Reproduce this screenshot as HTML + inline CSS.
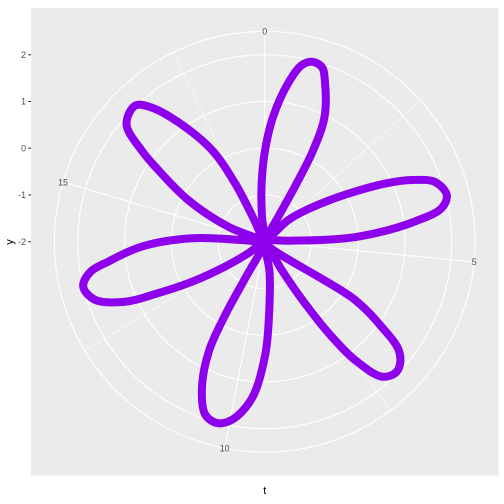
<!DOCTYPE html>
<html><head><meta charset="utf-8"><style>
html,body{margin:0;padding:0;background:#fff;}
svg{display:block;font-family:"Liberation Sans",sans-serif;}
</style></head><body>
<svg id="chart" width="504" height="504" viewBox="0 0 504 504">
<rect x="31" y="8" width="467.5" height="467.5" fill="#EBEBEB"/>
<g id="grid"></g>
<g id="series"></g>
<g id="axes"></g>
<text x="264.75" y="494" text-anchor="middle" font-size="11" fill="#000">t</text>
<text x="13" y="242" text-anchor="middle" font-size="11" fill="#000" transform="rotate(-90 13 242)">y</text>
</svg>
<script>
const thetaMax = 6 * Math.PI;
const yMin = -2, yMax = 2;
const thetaMajor = [0, 5, 10, 15];
const thetaMinor = [2.5, 7.5, 12.5, 17.5];
const thetaLabels = ["0", "5", "10", "15"];
const rBreaks = [-2, -1, 0, 1, 2];
const rLabels = ["-2", "-1", "0", "1", "2"];
// path data: t (theta) and y values
const tVals = [
 -0.16,0.01,0.20,0.44,0.62,0.77,0.95,1.09,1.34,1.46,1.50,1.49, 2.0,
 2.48,2.93,3.19,3.38,3.52,3.70,3.96,4.15,4.31,4.43,4.56,4.62,4.58, 5.5,
 6.43,6.60,6.75,6.93,7.08,7.28,7.47,7.58,7.69,7.80, 8.4,
 8.95,9.20,9.41,9.67,9.97,10.20,10.42,10.64,10.84,10.91,10.90, 11.6,
 12.30,12.46,12.63,12.79,12.92,13.15,13.41,13.62,13.76,14.02,14.28,14.36, 14.8,
 15.31,15.63,15.94,16.05,16.25,16.57,16.75,16.97,17.28,17.44,17.50, 18.2,
 18.52
];
const yVals = [
 -0.75,-0.04,0.68,1.43,1.86,1.98,1.93,1.63,0.96,0.22,-0.58,-1.39, -2,
 -1.31,-0.53,0.21,0.93,1.41,1.86,2.02,1.85,1.24,0.65,-0.07,-0.78,-1.50, -2,
 0.30,1.09,1.68,1.91,1.96,1.82,1.18,0.49,-0.43,-1.30, -2,
 -1.36,-0.65,0.41,1.36,1.87,2.01,1.91,1.41,0.63,-0.23,-1.12, -2,
 -1.57,-1.00,-0.22,0.53,1.25,1.84,2.00,1.79,1.37,0.63,-0.44,-1.51, -2,
 -1.16,-0.14,0.84,1.27,1.88,2.02,1.75,1.16,0.27,-0.60,-1.40, -2,
 -1.46
];

const NS = "http://www.w3.org/2000/svg";
const cx = 264.75, cy = 241.75, R = 467.5 * 0.4, Router = 467.5 * 0.45;
function angleOf(t) { return t / thetaMax * 2 * Math.PI; }
function rOf(y) { return (y - yMin) / (yMax - yMin) * R; }
function pt(t, y) { const a = angleOf(t), r = rOf(y); return [cx + r * Math.sin(a), cy - r * Math.cos(a)]; }
function mk(tag, attrs, parent) { const e = document.createElementNS(NS, tag); for (const k in attrs) e.setAttribute(k, attrs[k]); parent.appendChild(e); return e; }

const grid = document.getElementById('grid');
const axes = document.getElementById('axes');
const series = document.getElementById('series');

rBreaks.forEach((b, i) => {
  if (rOf(b) > 1) {
    const c = mk('circle', {cx: cx, cy: cy, r: rOf(b), fill: 'none', stroke: '#fff', 'stroke-width': 1.07}, grid);
    
    
  }
  const ty = cy - rOf(b);
  const tick = mk('line', {x1: 28.3, x2: 31, y1: ty, y2: ty, stroke: '#333', 'stroke-width': 1.07}, axes);
  
  
  const lab = mk('text', {x: 26, y: ty + 3.2, 'text-anchor': 'end', 'font-size': 8.8, fill: '#4D4D4D'}, axes);
  lab.textContent = rLabels[i];
  
  
});
const oc = mk('circle', {cx: cx, cy: cy, r: Router, fill: 'none', stroke: '#fff', 'stroke-width': 1.07}, grid);



thetaMinor.forEach(t => {
  const a = angleOf(t);
  const l = mk('line', {x1: cx, y1: cy, x2: cx + Router * Math.sin(a), y2: cy - Router * Math.cos(a), stroke: '#fff', 'stroke-width': 0.53}, grid);
  
  
});
thetaMajor.forEach((t, i) => {
  const a = angleOf(t);
  const l = mk('line', {x1: cx, y1: cy, x2: cx + Router * Math.sin(a), y2: cy - Router * Math.cos(a), stroke: '#fff', 'stroke-width': 1.07}, grid);
  
  
  const rl = Router;
  const lab = mk('text', {x: cx + rl * Math.sin(a), y: cy - rl * Math.cos(a) + 3.2, 'text-anchor': 'middle', 'font-size': 8.8, fill: '#4D4D4D'}, axes);
  lab.textContent = thetaLabels[i];
  
  
});

// centripetal Catmull-Rom through screen points (closed)
const P = tVals.map((t, i) => pt(t, yVals[i]));
const m = P.length;
function kd(a, b) { return Math.max(1e-3, Math.sqrt(Math.hypot(a[0] - b[0], a[1] - b[1]))); }
let d = 'M' + P[0][0].toFixed(2) + ',' + P[0][1].toFixed(2);
for (let i = 0; i < m; i++) {
  const p0 = P[(i - 1 + m) % m], p1 = P[i], p2 = P[(i + 1) % m], p3 = P[(i + 2) % m];
  const d1 = kd(p0, p1), d2 = kd(p1, p2), d3 = kd(p2, p3);
  const c1 = [], c2 = [];
  for (let k = 0; k < 2; k++) {
    const m1 = d2 * ((p1[k] - p0[k]) / d1 - (p2[k] - p0[k]) / (d1 + d2) + (p2[k] - p1[k]) / d2);
    const m2 = d2 * ((p2[k] - p1[k]) / d2 - (p3[k] - p1[k]) / (d2 + d3) + (p3[k] - p2[k]) / d3);
    c1[k] = p1[k] + m1 / 3;
    c2[k] = p2[k] - m2 / 3;
  }
  d += 'C' + c1[0].toFixed(2) + ',' + c1[1].toFixed(2) + ' ' + c2[0].toFixed(2) + ',' + c2[1].toFixed(2) + ' ' + p2[0].toFixed(2) + ',' + p2[1].toFixed(2);
}
const path = mk('path', {d: d, fill: 'none', stroke: '#8E00EC', 'stroke-width': 8, 'stroke-linejoin': 'round', 'stroke-linecap': 'round'}, series);


</script>
</body></html>
